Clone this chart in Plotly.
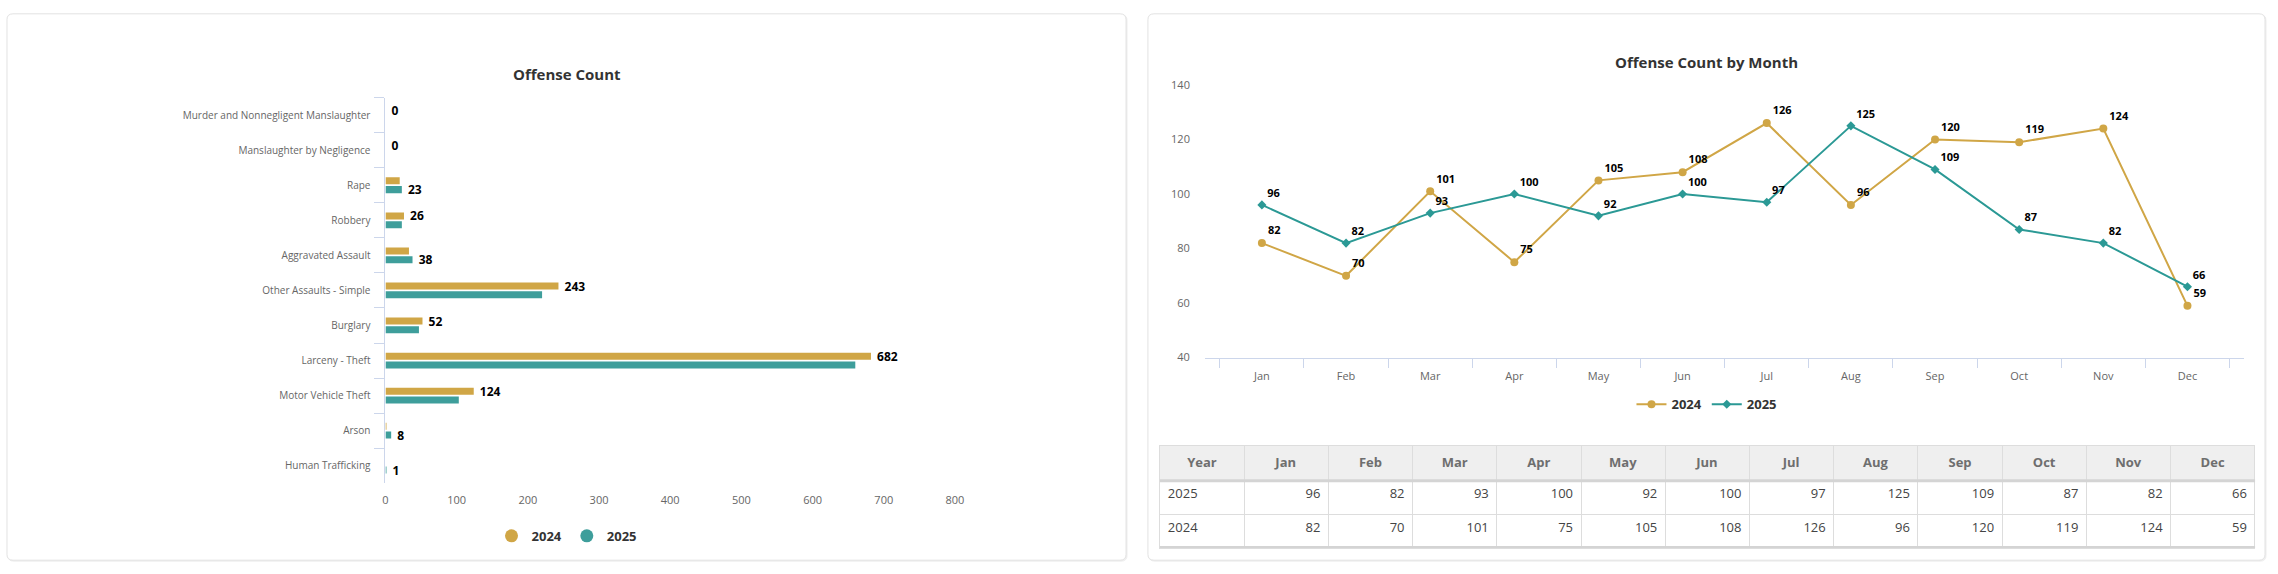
import plotly.graph_objects as go

# ---------------- data ----------------
offense_categories = [
    "Murder and Nonnegligent Manslaughter",
    "Manslaughter by Negligence",
    "Rape",
    "Robbery",
    "Aggravated Assault",
    "Other Assaults - Simple",
    "Burglary",
    "Larceny - Theft",
    "Motor Vehicle Theft",
    "Arson",
    "Human Trafficking",
]
offense_2024 = [0, 0, 20, 26, 33, 243, 52, 682, 124, 1, 0]
offense_2025 = [0, 0, 23, 23, 38, 220, 47, 660, 103, 8, 1]

months = ["Jan", "Feb", "Mar", "Apr", "May", "Jun",
          "Jul", "Aug", "Sep", "Oct", "Nov", "Dec"]
monthly_2024 = [82, 70, 101, 75, 105, 108, 126, 96, 120, 119, 124, 59]
monthly_2025 = [96, 82, 93, 100, 92, 100, 97, 125, 109, 87, 82, 66]

series_names = ["2024", "2025"]
table_header = ["Year"] + months

# ---------------- style ----------------
W, H = 2278, 574
GOLD = "#D0A646"
TEAL_BAR = "#3E9E9B"
TEAL_LINE = "#2B9995"
AXIS_COL = "#CCD6EB"
LABEL_COL = "#666666"
FONT = "Open Sans"
NBSP = "\u00a0"


def px(x):
    return x / W


def py(y):
    return 1 - y / H


def rounded_rect(x0, y0, x1, y1, r=6):
    rx, ry = r / W, r / H
    X0, X1, T, B = px(x0), px(x1), py(y0), py(y1)
    return (f"M {X0+rx},{T} L {X1-rx},{T} Q {X1},{T} {X1},{T-ry} "
            f"L {X1},{B+ry} Q {X1},{B} {X1-rx},{B} L {X0+rx},{B} "
            f"Q {X0},{B} {X0},{B+ry} L {X0},{T-ry} Q {X0},{T} {X0+rx},{T} Z")


# data labels: the larger value of each pair is labelled (ties -> 2024)
text_2024 = [NBSP + str(a) if a >= b else "" for a, b in zip(offense_2024, offense_2025)]
text_2025 = [NBSP + str(b) if b > a else "" for a, b in zip(offense_2024, offense_2025)]

fig = go.Figure()

# ---------------- bar chart ----------------
fig.add_trace(go.Bar(
    y=offense_categories, x=offense_2024, orientation="h", name=series_names[0],
    marker=dict(color=GOLD, line=dict(width=0)),
    text=text_2024, textposition="outside", constraintext="none",
    textfont=dict(family=FONT, size=12, color="#000000", weight="bold"),
    cliponaxis=False, showlegend=False, xaxis="x", yaxis="y",
))
fig.add_trace(go.Bar(
    y=offense_categories, x=offense_2025, orientation="h", name=series_names[1],
    marker=dict(color=TEAL_BAR, line=dict(width=0)),
    text=text_2025, textposition="outside", constraintext="none",
    textfont=dict(family=FONT, size=12, color="#000000", weight="bold"),
    cliponaxis=False, showlegend=False, xaxis="x", yaxis="y",
))
# legend entries (circle symbols) for the bar chart
for name, col in zip(series_names, [GOLD, TEAL_BAR]):
    fig.add_trace(go.Scatter(
        x=[None], y=[None], mode="markers", name=name,
        marker=dict(symbol="circle", size=13, color=col),
        legend="legend", xaxis="x", yaxis="y",
    ))

# ---------------- line chart ----------------
fig.add_trace(go.Scatter(
    x=months, y=monthly_2024, mode="lines+markers+text", name=series_names[0],
    line=dict(color=GOLD, width=2),
    marker=dict(symbol="circle", size=8, color=GOLD),
    text=[str(v) for v in monthly_2024], textposition="top right",
    textfont=dict(family=FONT, size=11, color="#000000", weight="bold"),
    cliponaxis=False, legend="legend2", xaxis="x2", yaxis="y2",
))
fig.add_trace(go.Scatter(
    x=months, y=monthly_2025, mode="lines+markers+text", name=series_names[1],
    line=dict(color=TEAL_LINE, width=2),
    marker=dict(symbol="diamond", size=7, color=TEAL_LINE),
    text=[str(v) for v in monthly_2025], textposition="top right",
    textfont=dict(family=FONT, size=11, color="#000000", weight="bold"),
    cliponaxis=False, legend="legend2", xaxis="x2", yaxis="y2",
))

# ---------------- table ----------------
table_cols = [series_names[::-1]] + [
    [str(b), str(a)] for a, b in zip(monthly_2024, monthly_2025)
]
fig.add_trace(go.Table(
    domain=dict(x=[px(1163), px(2264)], y=[py(556), py(449)]),
    columnwidth=[1] * len(table_header),
    header=dict(
        values=[f"<b>{h}</b>" for h in table_header],
        fill_color="#EFEFEF",
        line=dict(color="#DDDDDD", width=1),
        align="center",
        font=dict(family=FONT, size=13, color="#6E6E6E"),
        height=35,
    ),
    cells=dict(
        values=table_cols,
        fill_color="white",
        line=dict(color="#DDDDDD", width=1),
        align=["left"] + ["right"] * len(months),
        font=dict(family=FONT, size=13, color="#444444"),
        height=34,
    ),
))

# ---------------- decoration shapes ----------------
shapes = []
for x0, x1 in [(4, 1129), (1151, 2274)]:
    shapes.append(dict(type="path", path=rounded_rect(x0 + 1, 7, x1 + 1, 568),
                       xref="paper", yref="paper", layer="below",
                       fillcolor="#F2F2F2", line=dict(color="#EEEEEE", width=1)))
    shapes.append(dict(type="path", path=rounded_rect(x0, 6, x1, 567),
                       xref="paper", yref="paper", layer="below",
                       fillcolor="white", line=dict(color="#E2E2E2", width=1)))
# heavier rule under the table header and under the table
shapes.append(dict(type="line", xref="paper", yref="paper",
                   x0=px(1163), x1=px(2264), y0=py(485.5), y1=py(485.5),
                   line=dict(color="#D4D4D4", width=3)))
shapes.append(dict(type="line", xref="paper", yref="paper",
                   x0=px(1163), x1=px(2264), y0=py(553.5), y1=py(553.5),
                   line=dict(color="#D4D4D4", width=2)))

annotations = [
    dict(text="<b>Offense Count</b>", x=px(567), y=py(68), xref="paper", yref="paper",
         xanchor="center", yanchor="middle", showarrow=False,
         font=dict(family=FONT, size=15, color="#333333")),
    dict(text="<b>Offense Count by Month</b>", x=px(1713), y=py(55), xref="paper",
         yref="paper", xanchor="center", yanchor="middle", showarrow=False,
         font=dict(family=FONT, size=15, color="#333333")),
]

tickfont = dict(family=FONT, size=11, color=LABEL_COL)

fig.update_layout(
    width=W, height=H,
    margin=dict(l=0, r=0, t=0, b=0),
    paper_bgcolor="white", plot_bgcolor="rgba(0,0,0,0)",
    font=dict(family=FONT),
    barmode="group", bargap=0.5, bargroupgap=0.2,
    hovermode=False,
    shapes=shapes, annotations=annotations,
    xaxis=dict(domain=[px(384.5), px(957)], range=[0, 800], dtick=100,
               showgrid=False, zeroline=False, showline=False, ticks="",
               tickfont=tickfont, ticklabelstandoff=9, anchor="y"),
    yaxis=dict(domain=[py(488), py(92)], type="category",
               categoryorder="array", categoryarray=offense_categories,
               autorange="reversed", showgrid=False, zeroline=False,
               showline=True, linecolor=AXIS_COL, linewidth=1,
               ticks="outside", tickson="boundaries", ticklen=10,
               tickcolor=AXIS_COL, tickwidth=1, ticklabelstandoff=12,
               tickfont=dict(family=FONT, size=10, color=LABEL_COL), anchor="x"),
    xaxis2=dict(domain=[px(1208.3), px(2253.3)], type="category",
                showgrid=False, zeroline=False, showline=True, linecolor=AXIS_COL,
                linewidth=1, ticks="outside", tickson="boundaries", ticklen=9,
                tickcolor=AXIS_COL, tickwidth=1, ticklabelstandoff=8,
                tickfont=tickfont, anchor="y2"),
    yaxis2=dict(domain=[py(359), py(79)], range=[40, 140], dtick=20,
                showgrid=False, zeroline=False, showline=False, ticks="",
                tickfont=tickfont, ticklabelstandoff=14, anchor="x2"),
    legend=dict(orientation="h", x=px(567), y=py(542), xanchor="center",
                yanchor="middle", bgcolor="rgba(0,0,0,0)",
                font=dict(family=FONT, size=13, color="#333333", weight="bold")),
    legend2=dict(orientation="h", x=px(1713), y=py(407), xanchor="center",
                 yanchor="middle", bgcolor="rgba(0,0,0,0)",
                 font=dict(family=FONT, size=13, color="#333333", weight="bold")),
)

fig.write_html(
    "out.html",
    config={"displayModeBar": False},
    post_script="document.body.style.margin='0';document.body.style.padding='0';",
)
